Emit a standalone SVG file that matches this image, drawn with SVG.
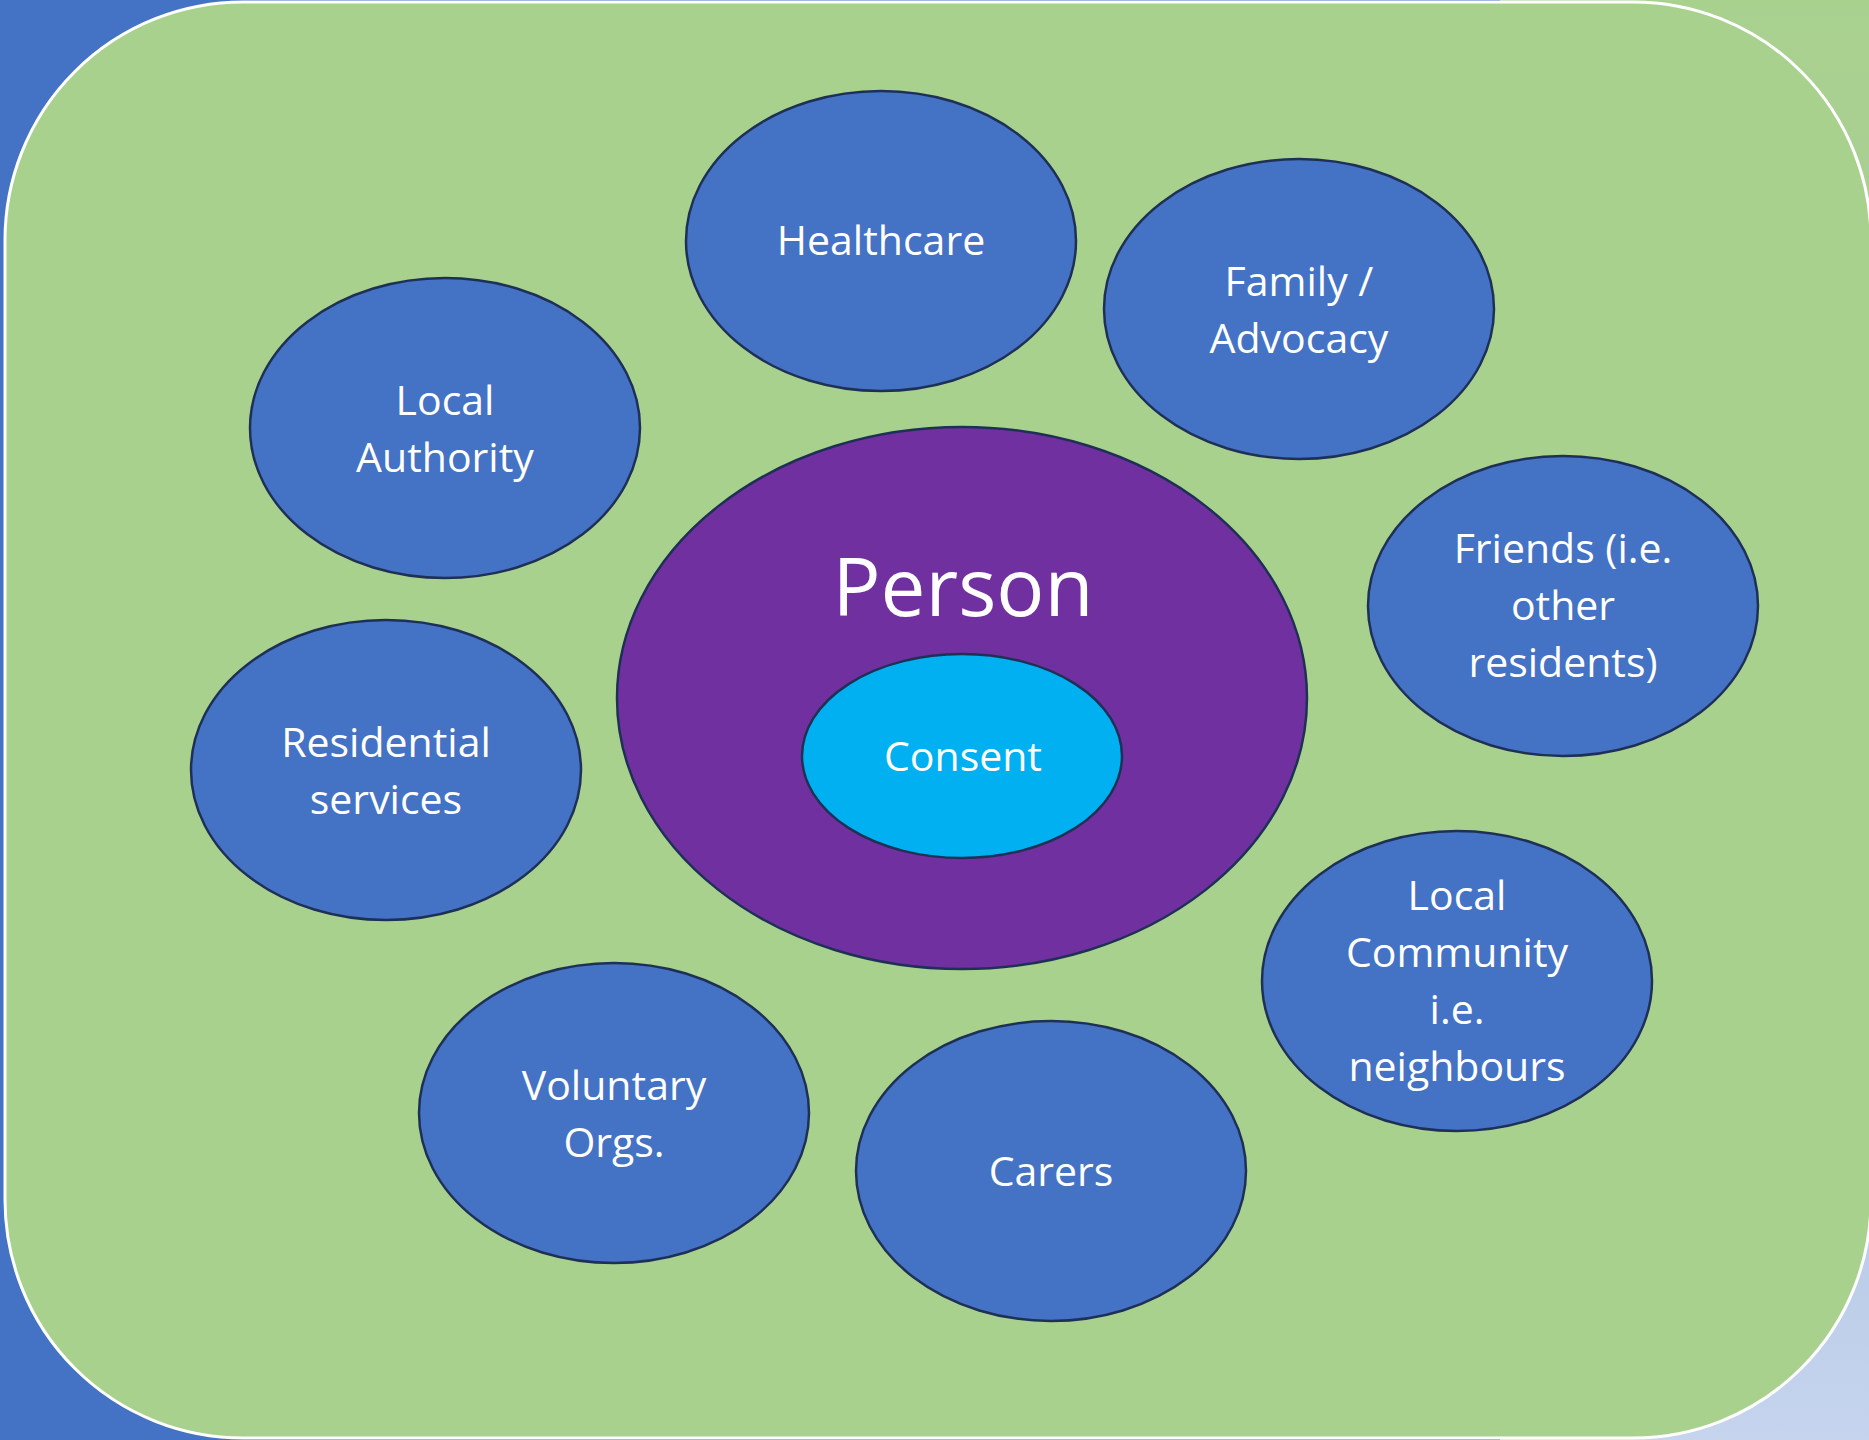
<svg xmlns="http://www.w3.org/2000/svg" width="1869" height="1440" viewBox="0 0 1869 1440">
<defs>
<linearGradient id="rg" x1="0" y1="0" x2="0" y2="1">
<stop offset="0" stop-color="#A9D18E"/>
<stop offset="0.2" stop-color="#A8CE94"/>
<stop offset="0.75" stop-color="#B0C6E2"/>
<stop offset="1" stop-color="#C6D4EE"/>
</linearGradient>
<style>
.n{fill:#4472C4;stroke:#1F3056;stroke-width:2.5}
.t{font-family:"Open Sans","Noto Sans",sans-serif;font-size:41px;fill:#FFFFFF;text-anchor:middle}
</style>
</defs>
<rect x="0" y="0" width="1869" height="1440" fill="#4472C4"/>
<rect x="1500" y="0" width="369" height="1440" fill="url(#rg)"/>
<rect id="panel" x="5" y="2" width="1866" height="1436" rx="238" ry="238" fill="#A9D18E" stroke="#FFFFFF" stroke-width="3"/>
<g id="connectors"></g>
<g id="healthcare"><ellipse class="n" cx="881" cy="241" rx="195" ry="150"/><text class="t" x="881" y="255">Healthcare</text></g>
<g id="family"><ellipse class="n" cx="1299" cy="309" rx="195" ry="150"/><text class="t" x="1299" y="296">Family /</text><text class="t" x="1299" y="353">Advocacy</text></g>
<g id="local-authority"><ellipse class="n" cx="445" cy="428" rx="195" ry="150"/><text class="t" x="445" y="415">Local</text><text class="t" x="445" y="472">Authority</text></g>
<g id="friends"><ellipse class="n" cx="1563" cy="606" rx="195" ry="150"/><text class="t" x="1563" y="563">Friends (i.e.</text><text class="t" x="1563" y="620">other</text><text class="t" x="1563" y="677">residents)</text></g>
<g id="residential"><ellipse class="n" cx="386" cy="770" rx="195" ry="150"/><text class="t" x="386" y="757">Residential</text><text class="t" x="386" y="814">services</text></g>
<g id="local-community"><ellipse class="n" cx="1457" cy="981" rx="195" ry="150"/><text class="t" x="1457" y="910">Local</text><text class="t" x="1457" y="967">Community</text><text class="t" x="1457" y="1024">i.e.</text><text class="t" x="1457" y="1081">neighbours</text></g>
<g id="voluntary"><ellipse class="n" cx="614" cy="1113" rx="195" ry="150"/><text class="t" x="614" y="1100">Voluntary</text><text class="t" x="614" y="1157">Orgs.</text></g>
<g id="carers"><ellipse class="n" cx="1051" cy="1171" rx="195" ry="150"/><text class="t" x="1051" y="1186">Carers</text></g>
<g id="person"><ellipse cx="962" cy="698" rx="345" ry="271" fill="#7030A0" stroke="#1F3056" stroke-width="2.5"/><text class="t" x="963" y="616" style="font-size:80px">Person</text></g>
<g id="consent"><ellipse cx="962" cy="756" rx="160" ry="102" fill="#00B0F0" stroke="#1F3056" stroke-width="2.5"/><text class="t" x="963" y="771">Consent</text></g>
</svg>
